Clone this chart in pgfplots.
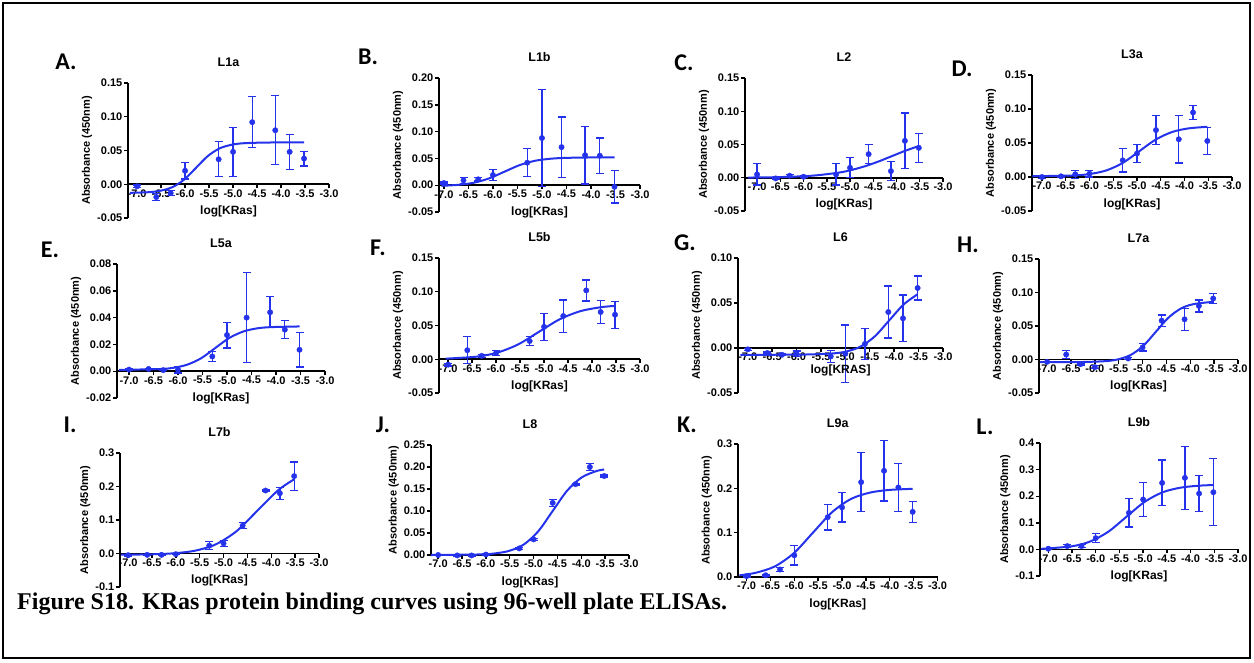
\documentclass[border=0pt]{standalone}
\usepackage{fontspec}
\setmainfont{Liberation Sans}
\newfontfamily\capfont{Liberation Serif}
\newfontfamily\letterfont{Carlito}
\usepackage{pgfplots}
\pgfplotsset{compat=1.18}
\definecolor{prismblue}{RGB}{36,50,235}

\pgfplotsset{
  prism/.style={
    scale only axis,
    anchor=south west,
    clip=false,
    axis x line*=middle,
    axis y line*=left,
    axis line style={line width=1.6pt, black},
    tick style={line width=1.4pt, black},
    major tick length=4pt,
    tick align=outside,
    hide obscured x ticks=false,
    hide obscured y ticks=false,
    scaled y ticks=false,
    scaled x ticks=false,
    xmax=-3,
    xtick={-7,-6.5,-6,-5.5,-5,-4.5,-4,-3.5,-3},
    xticklabels={-7.0,-6.5,-6.0,-5.5,-5.0,-4.5,-4.0,-3.5,-3.0},
    tick label style={font=\bfseries\fontsize{11}{12}\selectfont},
    xticklabel style={inner sep=1pt},
    yticklabel style={inner sep=1.5pt},
    ylabel={Absorbance (450nm)},
    xlabel={log[KRas]},
    ylabel style={font=\bfseries\fontsize{11}{12}\selectfont},
    xlabel style={at={(axis cs:{(\pgfkeysvalueof{/pgfplots/xmin}-3)/2},0)}, anchor=center,
                  yshift=-27pt, font=\bfseries\fontsize{12}{13}\selectfont},
    title style={font=\bfseries\fontsize{12.5}{13}\selectfont, yshift=7pt},
  },
  fit/.style={prismblue, line width=2pt, smooth, no marks},
  pts/.style={prismblue, only marks, mark=*, mark size=2.7pt,
    error bars/.cd, y dir=both, y explicit,
    error bar style={line width=1.3pt, prismblue},
    error mark options={rotate=90, prismblue, mark size=4pt, line width=1.3pt}},
}

\begin{document}
\begin{tikzpicture}
\path[use as bounding box] (0pt,0pt) rectangle (1254pt,-662pt);
\draw[line width=1.3pt] (3pt,-3pt) rectangle (1250pt,-658pt);

% ---------- A: L1a ----------
\begin{axis}[prism, at={(128pt,-218pt)}, width=201pt, height=135pt,
  xmin=-7.19, ymin=-0.05, ymax=0.15,
  ytick={-0.05,0,0.05,0.1,0.15}, yticklabels={-0.05,0.00,0.05,0.10,0.15},
  title={L1a}]
\addplot[fit] coordinates {(-7.15,-0.0127) (-6.746,-0.0117) (-6.502,-0.0094) (-6.258,-0.0041) (-6.014,0.0072) (-5.77,0.0245) (-5.526,0.0418) (-5.282,0.0531) (-5.038,0.0584) (-4.794,0.0607) (-4.307,0.0618) (-3.52,0.0620)};
\addplot[pts] coordinates {(-7,-0.003) +- (0,0.002) (-6.6,-0.019) +- (0,0.005) (-6.3,-0.013) +- (0,0.004) (-6,0.020) +- (0,0.012) (-5.3,0.037) +- (0,0.026) (-5,0.048) +- (0,0.036) (-4.6,0.092) +- (0,0.038) (-4.12,0.080) +- (0,0.051) (-3.82,0.048) +- (0,0.026) (-3.52,0.038) +- (0,0.011)};
\end{axis}

% ---------- B: L1b ----------
\begin{axis}[prism, at={(439pt,-212pt)}, width=201pt, height=134pt,
  xmin=-7.1, ymin=-0.05, ymax=0.20,
  ytick={-0.05,0,0.05,0.1,0.15,0.2}, yticklabels={-0.05,0.00,0.05,0.10,0.15,0.20},
  title={L1b}]
\addplot[fit] coordinates {(-7.05,-0.0011) (-6.716,0.0006) (-6.401,0.0044) (-6.085,0.0125) (-5.77,0.025) (-5.455,0.0375) (-5.139,0.0456) (-4.824,0.0494) (-4.508,0.0510) (-3.877,0.0519) (-3.52,0.052)};
\addplot[pts] coordinates {(-7,0.004) +- (0,0.002) (-6.6,0.009) +- (0,0.006) (-6.3,0.011) +- (0,0.003) (-6,0.019) +- (0,0.010) (-5.3,0.042) +- (0,0.026) (-5,0.088) +- (0,0.091) (-4.6,0.071) +- (0,0.056) (-4.12,0.056) +- (0,0.054) (-3.82,0.055) +- (0,0.033) (-3.52,-0.003) +- (0,0.030)};
\end{axis}

% ---------- C: L2 ----------
\begin{axis}[prism, at={(745pt,-211pt)}, width=198pt, height=133pt,
  xmin=-7.26, ymin=-0.05, ymax=0.15,
  ytick={-0.05,0,0.05,0.1,0.15}, yticklabels={-0.05,0.00,0.05,0.10,0.15},
  title={L2}]
\addplot[fit] coordinates {(-7.2,0.0003) (-6.5,0.001) (-5.814,0.0031) (-5.243,0.0077) (-4.957,0.0119) (-4.671,0.0175) (-4.386,0.0245) (-4.1,0.0325) (-3.814,0.0405) (-3.52,0.0477)};
\addplot[pts] coordinates {(-7,0.005) +- (0,0.016) (-6.6,-0.001) +- (0,0.001) (-6.3,0.003) +- (0,0.002) (-6,0.0015) +- (0,0.001) (-5.3,0.005) +- (0,0.016) (-5,0.015) +- (0,0.015) (-4.6,0.0355) +- (0,0.014) (-4.12,0.010) +- (0,0.014) (-3.82,0.0555) +- (0,0.042) (-3.52,0.045) +- (0,0.022)};
\end{axis}

% ---------- D: L3a ----------
\begin{axis}[prism, at={(1032pt,-211pt)}, width=200pt, height=136pt,
  xmin=-7.21, ymin=-0.05, ymax=0.15,
  ytick={-0.05,0,0.05,0.1,0.15}, yticklabels={-0.05,0.00,0.05,0.10,0.15},
  title={L3a}]
\addplot[fit] coordinates {(-7.2,0.0011) (-6.329,0.0023) (-5.984,0.0045) (-5.64,0.0098) (-5.295,0.0209) (-4.95,0.038) (-4.605,0.0551) (-4.26,0.0662) (-3.916,0.0715) (-3.52,0.0738)};
\addplot[pts] coordinates {(-7,0.000) +- (0,0.002) (-6.6,0.001) +- (0,0.001) (-6.3,0.004) +- (0,0.006) (-6,0.005) +- (0,0.005) (-5.3,0.0245) +- (0,0.017) (-5,0.0345) +- (0,0.013) (-4.6,0.069) +- (0,0.021) (-4.12,0.0555) +- (0,0.035) (-3.82,0.095) +- (0,0.010) (-3.52,0.053) +- (0,0.020)};
\end{axis}

% ---------- E: L5a ----------
\begin{axis}[prism, at={(117pt,-398pt)}, width=208pt, height=134pt,
  xmin=-7.245, ymin=-0.02, ymax=0.08,
  ytick={-0.02,0,0.02,0.04,0.06,0.08}, yticklabels={-0.02,0.00,0.02,0.04,0.06,0.08},
  title={L5a}]
\addplot[fit] coordinates {(-7.2,0.001) (-6.383,0.0016) (-6.097,0.0025) (-5.811,0.0049) (-5.526,0.0097) (-5.24,0.0173) (-4.954,0.0248) (-4.669,0.0296) (-4.383,0.0320) (-4.097,0.0329) (-3.52,0.0334)};
\addplot[pts] coordinates {(-7,0.0012) +- (0,0.0005) (-6.6,0.0017) +- (0,0.0005) (-6.3,0.0008) +- (0,0.0005) (-6,0.0012) +- (0,0.0025) (-5.3,0.011) +- (0,0.0036) (-5,0.027) +- (0,0.0096) (-4.6,0.040) +- (0,0.0335) (-4.12,0.044) +- (0,0.0115) (-3.82,0.031) +- (0,0.0066) (-3.52,0.016) +- (0,0.0128)};
\end{axis}

% ---------- F: L5b ----------
\begin{axis}[prism, at={(439pt,-393pt)}, width=201pt, height=135pt,
  xmin=-7.19, ymin=-0.05, ymax=0.15,
  ytick={-0.05,0,0.05,0.1,0.15}, yticklabels={-0.05,0.00,0.05,0.10,0.15},
  title={L5b}]
\addplot[fit] coordinates {(-7.05,0.0009) (-6.414,0.0038) (-5.98,0.0097) (-5.545,0.0218) (-5.11,0.0405) (-4.675,0.0592) (-4.24,0.0713) (-3.806,0.0772) (-3.52,0.0790)};
\addplot[pts] coordinates {(-7,-0.008) +- (0,0.002) (-6.6,0.0134) +- (0,0.020) (-6.3,0.005) +- (0,0.002) (-6,0.0094) +- (0,0.004) (-5.3,0.027) +- (0,0.0065) (-5,0.048) +- (0,0.020) (-4.6,0.064) +- (0,0.024) (-4.12,0.102) +- (0,0.0156) (-3.82,0.070) +- (0,0.017) (-3.52,0.066) +- (0,0.020)};
\end{axis}

% ---------- G: L6 ----------
\begin{axis}[prism, at={(738pt,-393pt)}, width=205pt, height=135pt,
  xmin=-7.2, ymin=-0.05, ymax=0.10,
  ytick={-0.05,0,0.05,0.1}, yticklabels={-0.05,0.00,0.05,0.10},
  xlabel={log[KRAS]}, xlabel style={yshift=5pt}, title={L6}]
\addplot[fit] coordinates {(-7.15,-0.0075) (-6.5,-0.0075) (-5.865,-0.0073) (-5.276,-0.0061) (-4.982,-0.0039) (-4.688,0.0016) (-4.394,0.0131) (-4.1,0.0308) (-3.806,0.0484) (-3.52,0.0597)};
\addplot[pts] coordinates {(-7,-0.0015) +- (0,0.001) (-6.6,-0.0056) +- (0,0.001) (-6.3,-0.0075) +- (0,0.001) (-6,-0.0064) +- (0,0.003) (-5.3,-0.0094) +- (0,0.0065) (-5,-0.0064) +- (0,0.032) (-4.6,0.0045) +- (0,0.017) (-4.12,0.040) +- (0,0.029) (-3.82,0.033) +- (0,0.026) (-3.52,0.0667) +- (0,0.0133)};
\end{axis}

% ---------- H: L7a ----------
\begin{axis}[prism, at={(1039pt,-393pt)}, width=199pt, height=134pt,
  xmin=-7.17, ymin=-0.05, ymax=0.15,
  ytick={-0.05,0,0.05,0.1,0.15}, yticklabels={-0.05,0.00,0.05,0.10,0.15},
  title={L7a}]
\addplot[fit] coordinates {(-7.15,-0.004) (-6.299,-0.0038) (-5.773,-0.0024) (-5.509,0.0003) (-5.246,0.0069) (-4.983,0.0205) (-4.72,0.0415) (-4.457,0.0625) (-4.194,0.0762) (-3.93,0.0827) (-3.52,0.0861)};
\addplot[pts] coordinates {(-7,-0.0035) +- (0,0.001) (-6.6,0.0074) +- (0,0.006) (-6.3,-0.007) +- (0,0.001) (-6,-0.0114) +- (0,0.002) (-5.3,0.0015) +- (0,0.001) (-5,0.018) +- (0,0.0055) (-4.6,0.058) +- (0,0.0085) (-4.12,0.060) +- (0,0.0165) (-3.82,0.080) +- (0,0.009) (-3.52,0.091) +- (0,0.007)};
\end{axis}

% ---------- I: L7b ----------
\begin{axis}[prism, at={(120pt,-587pt)}, width=199pt, height=134pt,
  xmin=-7.17, ymin=-0.1, ymax=0.3,
  ytick={-0.1,0,0.1,0.2,0.3}, yticklabels={-0.1,0.0,0.1,0.2,0.3},
  title={L7b}]
\addplot[fit] coordinates {(-7.15,-0.0037) (-6.464,-0.0022) (-6.029,0.0008) (-5.594,0.0085) (-5.16,0.0275) (-4.725,0.067) (-4.29,0.128) (-3.855,0.189) (-3.52,0.2216)};
\addplot[pts] coordinates {(-7,-0.005) +- (0,0.002) (-6.6,-0.004) +- (0,0.002) (-6.3,-0.004) +- (0,0.002) (-6,-0.002) +- (0,0.002) (-5.3,0.0234) +- (0,0.012) (-5,0.030) +- (0,0.009) (-4.6,0.083) +- (0,0.009) (-4.12,0.188) +- (0,0.002) (-3.82,0.180) +- (0,0.018) (-3.52,0.231) +- (0,0.042)};
\end{axis}

% ---------- J: L8 ----------
\begin{axis}[prism, at={(431pt,-555pt)}, width=198pt, height=110pt,
  xmin=-7.15, ymin=0, ymax=0.25,
  ytick={0,0.05,0.1,0.15,0.2,0.25}, yticklabels={0.00,0.05,0.10,0.15,0.20,0.25},
  title={L8}]
\addplot[fit] coordinates {(-7.15,0) (-6.115,0.0013) (-5.812,0.0036) (-5.509,0.0095) (-5.206,0.0238) (-4.903,0.0538) (-4.6,0.1) (-4.297,0.1462) (-3.994,0.1762) (-3.691,0.1905) (-3.52,0.1944)};
\addplot[pts] coordinates {(-7,0.000) +- (0,0.001) (-6.6,-0.001) +- (0,0.001) (-6.3,-0.001) +- (0,0.001) (-6,0.001) +- (0,0.001) (-5.3,0.015) +- (0,0.002) (-5,0.0355) +- (0,0.002) (-4.6,0.1185) +- (0,0.0075) (-4.12,0.161) +- (0,0.002) (-3.82,0.200) +- (0,0.0075) (-3.52,0.1796) +- (0,0.002)};
\end{axis}

% ---------- K: L9a ----------
\begin{axis}[prism, at={(738pt,-577pt)}, width=199.5pt, height=133pt,
  xmin=-7.18, ymin=0, ymax=0.3,
  ytick={0,0.1,0.2,0.3}, yticklabels={0.0,0.1,0.2,0.3},
  title={L9a}]
\addplot[fit] coordinates {(-7.15,0.0038) (-6.81,0.0095) (-6.41,0.0238) (-6.01,0.0538) (-5.61,0.1) (-5.21,0.1462) (-4.81,0.1762) (-4.41,0.1905) (-4.01,0.1964) (-3.52,0.1989)};
\addplot[pts] coordinates {(-7,0.002) +- (0,0.002) (-6.6,0.004) +- (0,0.002) (-6.3,0.017) +- (0,0.004) (-6,0.049) +- (0,0.022) (-5.3,0.135) +- (0,0.029) (-5,0.157) +- (0,0.033) (-4.6,0.214) +- (0,0.067) (-4.12,0.2396) +- (0,0.068) (-3.82,0.202) +- (0,0.054) (-3.52,0.147) +- (0,0.024)};
\end{axis}

% ---------- L: L9b ----------
\begin{axis}[prism, at={(1040pt,-576pt)}, width=198pt, height=133pt,
  xmin=-7.175, ymin=-0.1, ymax=0.4,
  ytick={-0.1,0,0.1,0.2,0.3,0.4}, yticklabels={-0.1,0.0,0.1,0.2,0.3,0.4},
  title={L9b}]
\addplot[fit] coordinates {(-7.15,0.0021) (-6.511,0.0116) (-6.126,0.0291) (-5.742,0.0656) (-5.357,0.122) (-4.972,0.1784) (-4.588,0.2149) (-4.203,0.2324) (-3.819,0.2396) (-3.52,0.242)};
\addplot[pts] coordinates {(-7,0.0025) +- (0,0.002) (-6.6,0.0125) +- (0,0.005) (-6.3,0.0125) +- (0,0.006) (-6,0.0425) +- (0,0.017) (-5.3,0.1375) +- (0,0.053) (-5,0.1875) +- (0,0.064) (-4.6,0.25) +- (0,0.086) (-4.12,0.269) +- (0,0.119) (-3.82,0.21) +- (0,0.067) (-3.52,0.215) +- (0,0.126)};
\end{axis}

% panel letters
\begin{scope}[every node/.style={font=\letterfont\bfseries\fontsize{24}{24}\selectfont, inner sep=0pt}]
\node at (66pt,-62pt) {A.};
\node at (368pt,-57pt) {B.};
\node at (684pt,-63pt) {C.};
\node at (962pt,-69pt) {D.};
\node at (50pt,-250pt) {E.};
\node at (378pt,-248pt) {F.};
\node at (685pt,-243pt) {G.};
\node at (968pt,-245pt) {H.};
\node at (70pt,-425pt) {I.};
\node at (383pt,-425pt) {J.};
\node at (687pt,-425pt) {K.};
\node at (985pt,-427pt) {L.};
\end{scope}

\node[anchor=west, inner sep=0pt, font=\capfont\bfseries\fontsize{24}{24}\selectfont]
  at (17pt,-604pt) {Figure S18. KRas protein binding curves using 96-well plate ELISAs.};
\end{tikzpicture}
\end{document}
